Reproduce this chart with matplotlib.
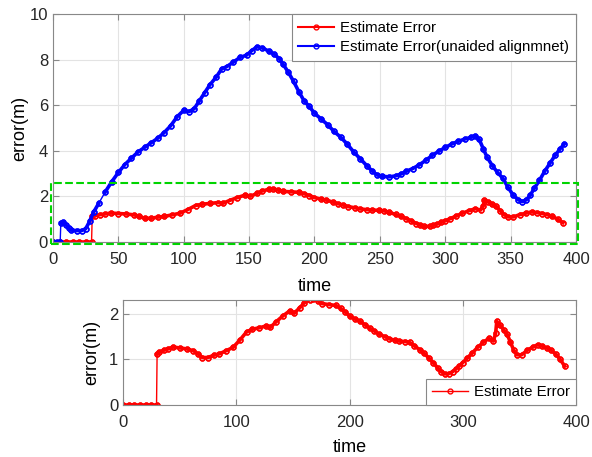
import matplotlib.pyplot as plt
from matplotlib.patches import Rectangle, ConnectionPatch

plt.rcParams['font.family'] = ['Liberation Sans', 'DejaVu Sans']

# Estimate Error (aided)
t_est = [0, 5, 10, 15, 20, 25, 29.5, 30, 32, 36, 40, 44, 50, 56, 62, 66, 70, 75,
         80, 85, 91, 97, 103, 109, 114, 120, 126, 130, 135, 141, 147, 151, 156,
         160, 165, 168, 172, 176, 182, 188, 192, 196, 200, 205, 209, 214, 218,
         222, 226, 231, 235, 240, 244, 249, 253, 257, 262, 266, 270, 274, 278,
         281, 284, 288, 291, 294, 297, 300, 304, 308, 313, 318, 323, 327, 329,
         330, 333, 336, 339, 342, 345, 348, 352, 357, 362, 366, 370, 374, 378,
         382, 386, 390]
err_est = [0, 0, 0, 0, 0, 0, 0, 1.12, 1.16, 1.2, 1.23, 1.27, 1.25, 1.23, 1.19,
           1.12, 1.04, 1.04, 1.09, 1.12, 1.19, 1.26, 1.42, 1.6, 1.66, 1.69, 1.73,
           1.70, 1.82, 1.95, 2.06, 2.01, 2.13, 2.24, 2.31, 2.33, 2.28, 2.22, 2.2,
           2.18, 2.12, 2.04, 1.95, 1.88, 1.84, 1.75, 1.68, 1.62, 1.55, 1.5, 1.45,
           1.42, 1.40, 1.39, 1.37, 1.30, 1.21, 1.13, 1.03, 0.92, 0.81, 0.73, 0.68,
           0.69, 0.73, 0.79, 0.86, 0.93, 1.03, 1.13, 1.26, 1.37, 1.46, 1.40, 1.57,
           1.83, 1.75, 1.65, 1.56, 1.38, 1.20, 1.10, 1.10, 1.2, 1.27, 1.32, 1.29,
           1.25, 1.2, 1.12, 1.0, 0.85]

# Estimate Error (unaided alignment)
t_un = [0, 3, 5.5, 6, 8, 10, 12, 14, 18, 22, 25, 28, 31, 35, 40, 45, 50, 55, 60,
        65, 70, 75, 80, 85, 90, 95, 100, 104, 108, 112, 116, 120, 125, 129, 133,
        138, 143, 148, 152, 156, 160, 165, 169, 173, 176, 180, 184, 188, 192,
        196, 200, 205, 210, 215, 220, 225, 230, 235, 240, 244, 248, 252, 257,
        262, 266, 270, 275, 280, 285, 290, 295, 300, 305, 310, 315, 320, 323,
        326, 329, 332, 336, 340, 344, 348, 352, 356, 359, 362, 365, 368, 372,
        376, 380, 384, 388, 391]
err_un = [0, 0, 0, 0.85, 0.87, 0.75, 0.6, 0.52, 0.5, 0.5, 0.58, 0.9, 1.3, 1.7,
          2.2, 2.65, 3.05, 3.4, 3.68, 3.95, 4.15, 4.35, 4.55, 4.8, 5.1, 5.5, 5.78,
          5.72, 5.85, 6.2, 6.55, 6.9, 7.25, 7.6, 7.7, 7.9, 8.1, 8.2, 8.4, 8.57,
          8.52, 8.38, 8.25, 8.05, 7.8, 7.45, 7.05, 6.6, 6.2, 5.95, 5.65, 5.4,
          5.15, 4.85, 4.6, 4.3, 3.95, 3.65, 3.35, 3.12, 2.94, 2.88, 2.86, 2.9,
          2.98, 3.1, 3.22, 3.38, 3.58, 3.8, 3.98, 4.15, 4.3, 4.42, 4.52, 4.6,
          4.65, 4.5, 4.1, 3.72, 3.35, 3.05, 2.8, 2.4, 2.05, 1.85, 1.77, 1.85,
          2.05, 2.35, 2.7, 3.1, 3.45, 3.8, 4.1, 4.3]

GREEN = '#00d400'
SPINE = '#888888'
LINE_KW = dict(lw=2.6, ms=3.5, mfc='none', mew=1.0)


def style_axes(ax):
    ax.grid(True, color='#e3e3e3', linewidth=0.8)
    ax.set_axisbelow(True)
    for s in ax.spines.values():
        s.set_color(SPINE)
        s.set_linewidth(0.8)
    ax.tick_params(direction='in', top=True, right=True, length=4,
                   color=SPINE, labelsize=12, labelcolor='#262626')
    ax.tick_params(axis='x', pad=7)


def plot_series(ax, t, v, color, label):
    # thin line through everything (shows the jumps), thick dotted band
    # on the pieces between the jumps
    line, = ax.plot(t, v, '-o', color=color, lw=1, ms=3.5, mfc='none',
                    mew=1.0, label=label)
    start = 0
    for i in range(1, len(v) + 1):
        if i == len(v) or abs(v[i] - v[i - 1]) > 0.5:
            ax.plot(t[start:i], v[start:i], '-o', color=color, **LINE_KW)
            start = i
    return line


fig = plt.figure(figsize=(5.92, 4.57), dpi=100)

# main plot
ax = fig.add_axes([0.0895, 0.4705, 0.8835, 0.4985])
style_axes(ax)
plot_series(ax, t_est, err_est, 'red', 'Estimate Error')
plot_series(ax, t_un, err_un, 'blue', 'Estimate Error(unaided alignmnet)')
ax.set_xlim(0, 400)
ax.set_ylim(0, 10)
ax.set_xticks(range(0, 401, 50))
ax.set_yticks(range(0, 11, 2))
ax.set_xlabel('time', fontsize=13, labelpad=8)
ax.set_ylabel('error(m)', fontsize=13, labelpad=1)
leg = ax.legend(loc='upper right', fontsize=10.8, borderaxespad=0,
                fancybox=False, framealpha=1, edgecolor=SPINE,
                handlelength=2.4, borderpad=0.45, labelspacing=0.35,
                handletextpad=0.4)
leg.get_frame().set_linewidth(0.8)
for h in leg.legend_handles:
    h.set_linewidth(1.5)

# zoom box on the main plot
ax.add_patch(Rectangle((-1.5, -0.08), 403, 2.68, fill=False, ec=GREEN,
                       ls='--', lw=1.5, clip_on=False, zorder=5))

# inset
ax2 = fig.add_axes([0.208, 0.1138, 0.765, 0.2297])
style_axes(ax2)
plot_series(ax2, t_est, err_est, 'red', 'Estimate Error')
ax2.set_xlim(0, 400)
ax2.set_ylim(0, 2.3)
ax2.set_xticks(range(0, 401, 100))
ax2.set_yticks([0, 1, 2])
ax2.set_xlabel('time', fontsize=13, labelpad=7)
ax2.set_ylabel('error(m)', fontsize=13, labelpad=6)
leg2 = ax2.legend(loc='lower right', fontsize=10.8, borderaxespad=0,
                  fancybox=False, framealpha=1, edgecolor=SPINE,
                  handlelength=2.4, borderpad=0.4, handletextpad=0.4)
leg2.get_frame().set_linewidth(0.8)

# connector lines
for xa, ya, xb, yb in [(-1.5, -0.08, 0, 2.3), (401.5, -0.08, 401.5, 2.15)]:
    con = ConnectionPatch(xyA=(xa, ya), coordsA='data', axesA=ax,
                          xyB=(xb, yb), coordsB='data', axesB=ax2,
                          color=GREEN, ls='--', lw=1.5)
    fig.add_artist(con)

fig.savefig('out.png', dpi=100)
